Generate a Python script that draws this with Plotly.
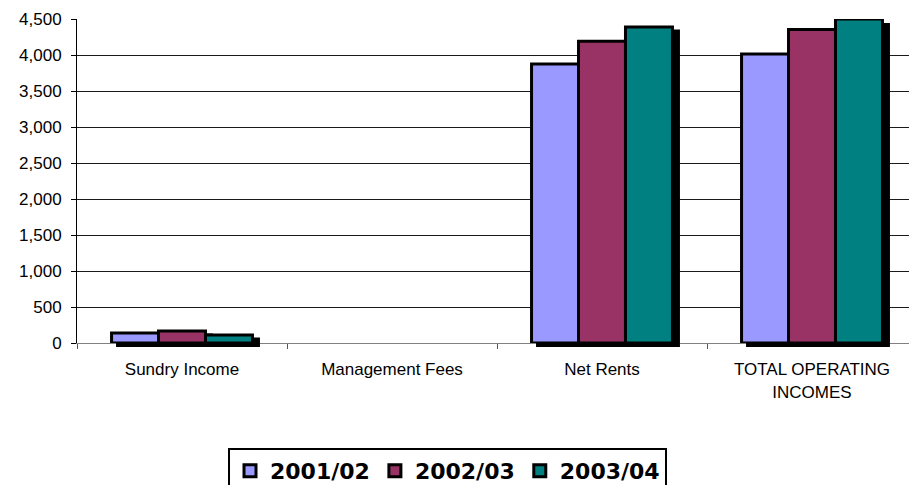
import plotly.graph_objects as go

# Operating income by category, three financial years
categories = ["Sundry Income", "Management Fees", "Net Rents", "TOTAL OPERATING<br>INCOMES"]
years = ["2001/02", "2002/03", "2003/04"]
sundry_income = [140, 165, 110]
management_fees = [0, 0, 0]
net_rents = [3875, 4190, 4390]
total_operating = [s + m + n for s, m, n in zip(sundry_income, management_fees, net_rents)]
series = [list(v) for v in zip(sundry_income, management_fees, net_rents, total_operating)]
colors = ["#9999FF", "#993366", "#008080"]
y_ticks = list(range(0, 4501, 500))

W, H = 909, 485
ML, MR, MT, MB = 77, 0, 19, 138
PW, PH = W - ML - MR, H - MT - MB
SHADOW_DX, SHADOW_DY = 6, 4
CAT_PX = 210.0                      # pixel width of one category slot
X_RANGE = [-0.5, -0.5 + PW / CAT_PX]
Y_RANGE = [0, 4500]


def outline_widths(vals, w=3):
    # empty bars get no outline, so nothing is drawn for them
    return [w if v else 0 for v in vals]


fig = go.Figure()

# drop shadows (drawn first so the bars sit on top of them)
for name, vals in zip(years, series):
    fig.add_trace(go.Bar(
        x=categories, y=vals, name=name, showlegend=False, hoverinfo="skip",
        marker=dict(color="black", line=dict(color="black", width=outline_widths(vals))),
        xaxis="x2", yaxis="y2",
    ))

# the bars themselves
for name, vals, c in zip(years, series, colors):
    fig.add_trace(go.Bar(
        x=categories, y=vals, name=name,
        marker=dict(color=c, line=dict(color="black", width=outline_widths(vals))),
        xaxis="x3", yaxis="y3",
    ))

# an empty trace so the base axes (grid, ticks, labels) are drawn
fig.add_trace(go.Scatter(x=categories, y=[None] * 4, showlegend=False, hoverinfo="skip"))

y_dom = [SHADOW_DY / PH, 1]
tick_font = dict(family="Liberation Sans, Arial, sans-serif", size=17, color="black")

fig.update_layout(
    width=W, height=H,
    margin=dict(l=ML, r=MR, t=MT, b=MB, autoexpand=False),
    paper_bgcolor="white", plot_bgcolor="rgba(0,0,0,0)",
    barmode="group", bargap=0.329, bargroupgap=0,
    xaxis=dict(
        type="category", categoryorder="array", categoryarray=categories,
        range=X_RANGE, domain=[0, 1], anchor="y",
        showgrid=False, zeroline=False,
        showline=True, linecolor="#808080", linewidth=1,
        ticks="outside", tickson="boundaries", ticklen=5, tickcolor="#555555", tickwidth=1,
        tickfont=tick_font, ticklabelstandoff=11,
    ),
    yaxis=dict(
        range=Y_RANGE, domain=y_dom, anchor="x",
        tickvals=y_ticks, tickformat=",",
        showgrid=True, gridcolor="#1a1a1a", gridwidth=1, zeroline=False,
        showline=True, linecolor="black", linewidth=1,
        ticks="outside", ticklen=5, tickcolor="black", tickwidth=1,
        tickfont=tick_font, ticklabelstandoff=6,
    ),
    xaxis2=dict(
        type="category", categoryorder="array", categoryarray=categories,
        range=[X_RANGE[0], X_RANGE[1] - SHADOW_DX / CAT_PX],
        domain=[SHADOW_DX / PW, 1], anchor="y2", visible=False,
    ),
    yaxis2=dict(
        range=Y_RANGE, domain=[0, 1 - SHADOW_DY / PH], anchor="x2", visible=False,
    ),
    xaxis3=dict(
        type="category", categoryorder="array", categoryarray=categories,
        range=X_RANGE, domain=[0, 1], anchor="y3", visible=False,
    ),
    yaxis3=dict(
        range=Y_RANGE, domain=y_dom, anchor="x3", visible=False,
    ),
    legend=dict(
        orientation="h",
        x=(228 - ML) / PW, xanchor="left",
        y=(H - MB - 448) / PH, yanchor="top",
        bgcolor="white", bordercolor="black", borderwidth=2,
        font=dict(family="DejaVu Sans, Verdana, sans-serif", size=22, color="black", weight="bold"),
        itemclick=False, itemdoubleclick=False,
    ),
    showlegend=True,
)

fig.write_html("out.html")
